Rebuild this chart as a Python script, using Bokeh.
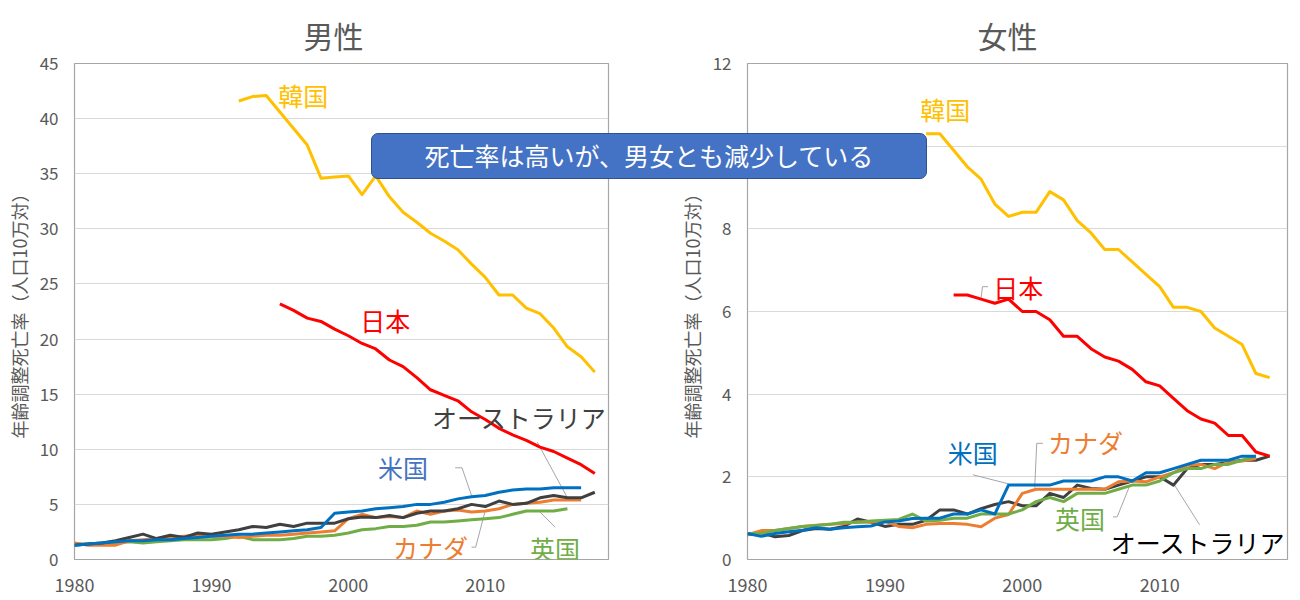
from bokeh.plotting import figure
from bokeh.models import Range1d, FixedTicker, Label, Div
from bokeh.layouts import row, column
from bokeh.embed import file_html
from bokeh.resources import INLINE

FONT = "Noto Sans CJK JP"

# ---------------- data ----------------
male_kor_years = list(range(1992, 2019))
male_kor = [41.6, 42.0, 42.1, 40.6, 39.1, 37.6, 34.6, 34.7, 34.8, 33.1, 34.8, 32.9, 31.5, 30.6,
            29.6, 28.9, 28.1, 26.8, 25.6, 24.0, 24.0, 22.8, 22.3, 21.0, 19.3, 18.4, 17.0]
male_jpn_years = list(range(1995, 2019))
male_jpn = [23.2, 22.6, 21.9, 21.6, 20.9, 20.3, 19.6, 19.1, 18.1, 17.5, 16.5, 15.4, 14.9, 14.4,
            13.4, 12.7, 11.9, 11.3, 10.8, 10.2, 9.8, 9.2, 8.6, 7.8]
male_us_years = list(range(1980, 2018))
male_us = [1.3, 1.4, 1.5, 1.6, 1.7, 1.7, 1.8, 1.8, 1.9, 2.0,
           2.1, 2.2, 2.3, 2.3, 2.4, 2.5, 2.6, 2.7, 2.9, 4.2,
           4.3, 4.4, 4.6, 4.7, 4.8, 5.0, 5.0, 5.2, 5.5, 5.7,
           5.8, 6.1, 6.3, 6.4, 6.4, 6.5, 6.5, 6.5]
male_aus_years = list(range(1980, 2019))
male_aus = [1.3, 1.4, 1.5, 1.7, 2.0, 2.3, 1.9, 2.2, 2.0, 2.4,
            2.3, 2.5, 2.7, 3.0, 2.9, 3.2, 3.0, 3.3, 3.3, 3.3,
            3.7, 3.85, 3.8, 4.0, 3.8, 4.2, 4.4, 4.4, 4.6, 5.0,
            4.8, 5.3, 5.0, 5.1, 5.6, 5.8, 5.6, 5.6, 6.1]
male_can_years = list(range(1980, 2018))
male_can = [1.5, 1.3, 1.3, 1.3, 1.7, 1.8, 1.9, 2.0, 2.1, 2.2,
            2.1, 2.1, 2.0, 2.1, 2.2, 2.2, 2.3, 2.4, 2.5, 2.6,
            3.7, 4.1, 3.8, 3.9, 3.8, 4.4, 4.1, 4.4, 4.5, 4.3,
            4.4, 4.6, 5.0, 5.1, 5.2, 5.4, 5.4, 5.4]
male_uk_years = list(range(1980, 2017))
male_uk = [1.4, 1.4, 1.5, 1.5, 1.6, 1.5, 1.6, 1.7, 1.8, 1.8,
           1.8, 1.9, 2.1, 1.8, 1.8, 1.8, 1.9, 2.1, 2.1, 2.2,
           2.4, 2.7, 2.8, 3.0, 3.0, 3.1, 3.4, 3.4, 3.5, 3.6,
           3.7, 3.8, 4.1, 4.4, 4.4, 4.4, 4.6]

female_kor_years = list(range(1993, 2019))
female_kor = [10.3, 10.3, 9.9, 9.5, 9.2, 8.6, 8.3, 8.4, 8.4, 8.9, 8.7, 8.2, 7.9, 7.5, 7.5, 7.2,
              6.9, 6.6, 6.1, 6.1, 6.0, 5.6, 5.4, 5.2, 4.5, 4.4]
female_jpn_years = list(range(1995, 2019))
female_jpn = [6.4, 6.4, 6.3, 6.2, 6.3, 6.0, 6.0, 5.8, 5.4, 5.4, 5.1, 4.9, 4.8, 4.6, 4.3, 4.2,
              3.9, 3.6, 3.4, 3.3, 3.0, 3.0, 2.6, 2.5]
female_us_years = list(range(1980, 2018))
female_us = [0.63, 0.56, 0.63, 0.67, 0.71, 0.77, 0.73, 0.77, 0.79, 0.81,
             0.91, 0.93, 0.99, 1.0, 1.0, 1.1, 1.1, 1.2, 1.1, 1.8,
             1.8, 1.8, 1.8, 1.9, 1.9, 1.9, 2.0, 2.0, 1.9, 2.1,
             2.1, 2.2, 2.3, 2.4, 2.4, 2.4, 2.5, 2.5]
female_can_years = list(range(1980, 2018))
female_can = [0.6, 0.7, 0.7, 0.75, 0.8, 0.83, 0.85, 0.87, 0.91, 0.9,
              0.93, 0.8, 0.77, 0.85, 0.87, 0.87, 0.85, 0.79, 1.0, 1.09,
              1.6, 1.7, 1.7, 1.7, 1.7, 1.7, 1.7, 1.88, 1.9, 1.88,
              2.0, 2.1, 2.28, 2.3, 2.2, 2.36, 2.38, 2.44]
female_aus_years = list(range(1980, 2019))
female_aus = [0.6, 0.65, 0.55, 0.58, 0.7, 0.75, 0.73, 0.8, 0.98, 0.9,
              0.8, 0.85, 0.85, 0.95, 1.2, 1.2, 1.1, 1.23, 1.33, 1.4,
              1.3, 1.3, 1.6, 1.5, 1.8, 1.72, 1.7, 1.8, 1.9, 2.0,
              2.0, 1.8, 2.2, 2.3, 2.3, 2.35, 2.4, 2.4, 2.5]
female_uk_years = list(range(1980, 2018))
female_uk = [0.63, 0.63, 0.7, 0.75, 0.8, 0.82, 0.85, 0.9, 0.9, 0.93,
             0.95, 0.97, 1.1, 0.93, 0.95, 1.0, 1.0, 1.1, 1.1, 1.1,
             1.2, 1.4, 1.5, 1.4, 1.6, 1.6, 1.6, 1.7, 1.8, 1.8,
             1.9, 2.1, 2.2, 2.2, 2.3, 2.3, 2.4, 2.5]

x_ticks = [1980, 1990, 2000, 2010]
male_y_ticks = [0, 5, 10, 15, 20, 25, 30, 35, 40, 45]
female_y_ticks = [0, 2, 4, 6, 8, 10, 12]

titles = ["男性", "女性"]
y_title = "年齢調整死亡率（人口10万対）"
callout = "死亡率は高いが、男女とも減少している"

COL = {"韓国": "#FFC000", "日本": "#FF0000", "米国": "#0070C0",
       "カナダ": "#ED7D31", "英国": "#70AD47", "オーストラリア": "#404040"}

# label annotations (text, x, y, color) and leader lines
male_labels = [("韓国", 1996.7, 42.1, "#FFC000"), ("日本", 2002.7, 21.7, "#FF0000"),
               ("オーストラリア", 2012.5, 12.9, "#404040"), ("米国", 2004.0, 8.35, "#4472C4"),
               ("カナダ", 2006.0, 1.1, "#ED7D31"), ("英国", 2015.1, 1.0, "#70AD47")]
male_leaders = [([2013.8, 2016.0], [10.64, 5.6]),
                ([2007.8, 2008.3, 2009.0], [8.32, 8.32, 5.8]),
                ([2009.0, 2009.3, 2010.0], [1.12, 1.12, 4.45]),
                ([2015.1, 2014.0], [2.93, 4.3])]
female_labels = [("韓国", 1994.4, 10.9, "#FFC000"), ("日本", 1999.7, 6.6, "#FF0000"),
                 ("米国", 1996.4, 2.6, "#0070C0"), ("カナダ", 2004.6, 2.85, "#ED7D31"),
                 ("英国", 2004.2, 1.0, "#70AD47"), ("オーストラリア", 2012.8, 0.42, "#000000")]
female_leaders = [([1997.5, 1997.1, 1997.0], [6.6, 6.6, 6.33]),
                  ([1996.4, 1999.0], [2.05, 1.83]),
                  ([2001.5, 2001.05, 2000.9], [2.81, 2.81, 1.74]),
                  ([2006.6, 2006.9, 2007.85], [1.03, 1.03, 1.81]),
                  ([2012.9, 2011.0], [0.84, 1.84])]


def make_fig(title, title_offset, ymax, yticks, xend, fw, fh, mbl, mbr, mbt, mbb):
    p = figure(output_backend="svg", toolbar_location=None,
               frame_width=fw, frame_height=fh,
               min_border_left=mbl, min_border_right=mbr,
               min_border_top=mbt, min_border_bottom=mbb,
               x_range=Range1d(1980, xend), y_range=Range1d(0, ymax))
    p.title.text = title
    p.title.align = "left"
    p.title.offset = title_offset
    p.title.standoff = 13
    p.title.text_font = FONT
    p.title.text_font_size = "30px"
    p.title.text_font_style = "normal"
    p.title.text_color = "#595959"
    p.outline_line_color = "#A6A6A6"
    p.outline_line_width = 1.2
    p.xgrid.grid_line_color = None
    p.ygrid.grid_line_color = "#D9D9D9"
    p.ygrid.grid_line_width = 1
    p.xaxis.ticker = FixedTicker(ticks=x_ticks)
    p.yaxis.ticker = FixedTicker(ticks=yticks)
    for ax in (p.xaxis[0], p.yaxis[0]):
        ax.axis_line_color = None
        ax.major_tick_line_color = None
        ax.minor_tick_line_color = None
        ax.major_tick_out = 0
        ax.major_tick_in = 0
        ax.minor_tick_out = 0
        ax.minor_tick_in = 0
        ax.major_label_text_font = FONT
        ax.major_label_text_color = "#595959"
    p.xaxis.major_label_text_font_size = "18px"
    p.yaxis.major_label_text_font_size = "17px"
    p.xaxis.major_label_standoff = 18
    p.yaxis.major_label_standoff = 16
    p.yaxis.axis_label = y_title
    p.yaxis.axis_label_text_font = FONT
    p.yaxis.axis_label_text_font_size = "18px"
    p.yaxis.axis_label_text_font_style = "normal"
    p.yaxis.axis_label_text_color = "#595959"
    p.yaxis.axis_label_standoff = 5
    p.background_fill_color = "white"
    p.border_fill_color = "white"
    return p


p1 = make_fig(titles[0], 229, 45, male_y_ticks, 2019, 534, 496, 74, 20, 63, 38)
p2 = make_fig(titles[1], 230, 12, female_y_ticks, 2019.3, 540, 496, 119, 5, 62, 39)

male_series = [(male_uk_years, male_uk, "英国"), (male_can_years, male_can, "カナダ"),
               (male_aus_years, male_aus, "オーストラリア"), (male_us_years, male_us, "米国"),
               (male_jpn_years, male_jpn, "日本"), (male_kor_years, male_kor, "韓国")]
female_series = [(female_aus_years, female_aus, "オーストラリア"), (female_can_years, female_can, "カナダ"),
                 (female_uk_years, female_uk, "英国"), (female_us_years, female_us, "米国"),
                 (female_jpn_years, female_jpn, "日本"), (female_kor_years, female_kor, "韓国")]

for p, series, labels, leaders in ((p1, male_series, male_labels, male_leaders),
                                   (p2, female_series, female_labels, female_leaders)):
    for lx, ly in leaders:
        p.line(lx, ly, line_color="#A6A6A6", line_width=1)
    for xs, ys, name in series:
        p.line(xs, ys, line_color=COL[name], line_width=3, line_join="round")
    for txt, lx, ly, c in labels:
        p.add_layout(Label(x=lx, y=ly, text=txt, text_color=c, text_font=FONT,
                           text_font_size="25px", text_align="center",
                           text_baseline="middle", level="overlay"))

box = Div(text=callout, styles={
    "position": "absolute", "left": "366px", "top": "128px",
    "width": "556px", "height": "46px", "box-sizing": "border-box",
    "background-color": "#4472C4", "border": "1px solid #2F528F",
    "border-radius": "7px", "color": "white", "font-family": FONT,
    "font-size": "25px", "display": "flex", "align-items": "center",
    "justify-content": "center", "z-index": "10",
})

layout = column(row(p1, p2), box)
open("out.html", "w").write(file_html(layout, INLINE))
